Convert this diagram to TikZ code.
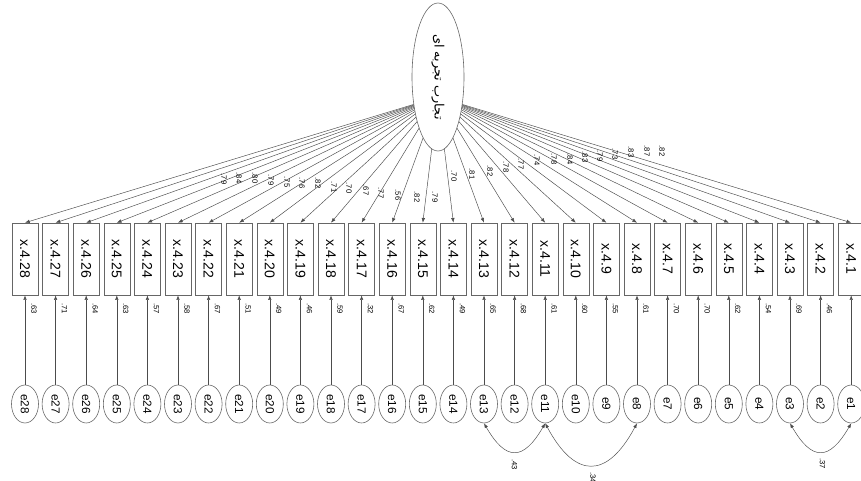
\documentclass[tikz,border=0pt]{standalone}
\usepackage{fontspec}
\usepackage{graphicx}
\setmainfont{Liberation Sans}
\newfontfamily\arabicfont[Script=Arabic]{DejaVu Sans}
\TeXXeTstate=1
\usetikzlibrary{shapes.geometric,arrows.meta,calc,backgrounds}

\tikzset{
	obs/.style={draw=black!60,line width=0.5pt,minimum width=0.78cm,minimum height=2.16cm,inner sep=0pt,font=\fontsize{12}{12}\selectfont},
	err/.style={draw=black!60,ellipse,line width=0.5pt,minimum width=0.81cm,minimum height=1.14cm,inner sep=0pt,font=\fontsize{10}{10}\selectfont},
	fac/.style={draw=black!60,fill=white,ellipse,line width=0.5pt,minimum width=1.56cm,minimum height=4.44cm,inner sep=0pt,font=\fontsize{11}{11}\selectfont},
	arr/.style={draw=black!70,line width=0.4pt,-{Latex[length=4pt,width=3pt]}},
	cov/.style={draw=black!70,line width=0.4pt,{Latex[length=4pt,width=3pt]}-{Latex[length=4pt,width=3pt]}},
	coef/.style={rotate=-90,inner sep=0pt,font=\fontsize{6.5}{6.5}\selectfont}
}

\begin{document}
\begin{tikzpicture}[x=0.03cm,y=-0.03cm]
	\useasboundingbox (0,0) rectangle (861,481);
	% latent factor
	\node[fac] (lat) at (438,77) {\rotatebox{-90}{\arabicfont\beginR تجارب تجربه ای\endR}};
	\coordinate (hub) at ($(lat.center)+(0,20)$);
	% items and their errors
	\foreach \k in {1,...,28} {
		\pgfmathsetmacro{\xx}{25+(28-\k)*30.6}
		\node[obs] (x\k) at (\xx,259) {\rotatebox{-90}{x.4.\k}};
		\node[err] (e\k) at (\xx,404) {\rotatebox{-90}{e\k}};
		\draw[arr] (e\k) -- (x\k);
		\begin{pgfonlayer}{background}
			\draw[arr] (hub) -- (x\k.north);
		\end{pgfonlayer}
	}
	% loadings
	\foreach \k/\v/\lx/\ly in {28/.79/224/179,27/.84/239/178,26/.80/255/178,25/.79/271/180,
		24/.75/287/182,23/.76/302/183,22/.82/318/183,21/.71/334/187,20/.70/349/188,
		19/.67/366/190,18/.77/381/193,17/.56/398/195,16/.82/417/197,15/.79/435/197,
		14/.70/454/176,13/.81/472/174,12/.82/490/171,11/.78/506/167,10/.77/521/164,
		9/.74/537/160,8/.78/554/159,7/.84/570/159,6/.83/585/157,5/.79/600/156,
		4/.73/615/154,3/.83/631/152,2/.87/647/151,1/.82/662/151}
		\node[coef] (l\k) at (\lx,\ly) {\v};
	% squared multiple correlations
	\foreach \k/\v in {28/.63,27/.71,26/.64,25/.63,24/.57,23/.58,22/.67,21/.51,20/.49,
		19/.46,18/.59,17/.32,16/.67,15/.62,14/.49,13/.65,12/.68,11/.61,10/.60,9/.55,
		8/.61,7/.70,6/.70,5/.62,4/.54,3/.69,2/.46}
		\node[coef] (r\k) at ($(x\k.south)+(9,13)$) {\v};
	% error covariances
	\draw[cov] (e13.south) .. controls +(22,38) and +(-22,38) .. (e11.south);
	\draw[cov] (e11.south) .. controls +(30,56) and +(-30,56) .. (e8.south);
	\draw[cov] (e3.south) .. controls +(22,38) and +(-22,38) .. (e1.south);
	\node[coef] (c1) at ($(e13.south)!0.5!(e11.south)+(0,41)$) {.43};
	\node[coef] (c2) at ($(e11.south)!0.5!(e8.south)+(2,54)$) {.34};
	\node[coef] (c3) at ($(e3.south)!0.5!(e1.south)+(2,40)$) {.37};
\end{tikzpicture}
\end{document}
